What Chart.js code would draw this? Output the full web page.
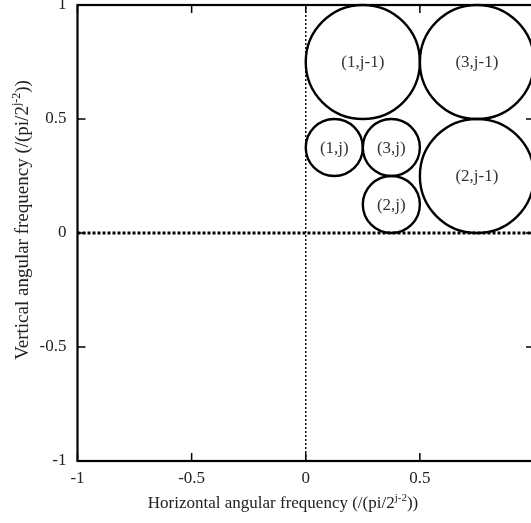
<!DOCTYPE html>
<html>
<head>
<meta charset="utf-8">
<script src="https://cdn.jsdelivr.net/npm/chart.js@4/dist/chart.umd.min.js"></script>
<style>
  html, body { margin: 0; padding: 0; background: #fff; overflow: hidden; }
  #wrap { width: 560px; height: 523px; }
</style>
</head>
<body>
<div id="wrap"><canvas id="c" width="560" height="523"></canvas></div>
<script>
// Subband layout in the normalised frequency plane: each subband is a circle
const circleLabels = ['(1,j-1)', '(3,j-1)', '(2,j-1)', '(1,j)', '(3,j)', '(2,j)'];
const circleX      = [0.25, 0.75, 0.75, 0.125, 0.375, 0.375];
const circleY      = [0.75, 0.75, 0.25, 0.375, 0.375, 0.125];
const circleR      = [0.25, 0.25, 0.25, 0.125, 0.125, 0.125];

// Axis range and tick values
const axisMin = -1;
const axisMax = 1;
const xTicks = [-1, -0.5, 0, 0.5, 1];
const yTicks = [-1, -0.5, 0, 0.5, 1];

const SERIF = '"Liberation Serif", "Times New Roman", serif';

const circleData = circleX.map((x, i) => ({ x: x, y: circleY[i], r: circleR[i], label: circleLabels[i] }));

// converts a radius in data units into pixels through the x scale
function radiusPx(ctx) {
  const s = ctx.chart.scales.x;
  const r = ctx.raw ? ctx.raw.r : 0;
  return Math.abs(s.getPixelForValue(r) - s.getPixelForValue(0));
}

// frame, inward tick marks, circle labels and axis titles
const decorations = {
  id: 'decorations',
  afterDatasetsDraw(chart) {
    const { ctx, chartArea: a, scales: { x, y } } = chart;
    ctx.save();
    ctx.strokeStyle = '#000';
    // inward ticks on all four sides
    ctx.lineWidth = 1.5;
    const tl = 8;
    ctx.beginPath();
    xTicks.forEach(v => {
      const px = x.getPixelForValue(v);
      ctx.moveTo(px, a.bottom); ctx.lineTo(px, a.bottom - tl);
      ctx.moveTo(px, a.top); ctx.lineTo(px, a.top + tl);
    });
    yTicks.forEach(v => {
      const py = y.getPixelForValue(v);
      ctx.moveTo(a.left, py); ctx.lineTo(a.left + tl, py);
      ctx.moveTo(a.right, py); ctx.lineTo(a.right - tl, py);
    });
    ctx.stroke();
    // frame
    ctx.lineWidth = 2.2;
    ctx.strokeRect(a.left, a.top, a.right - a.left, a.bottom - a.top);

    // subband labels at the circle centres
    ctx.fillStyle = '#333';
    ctx.font = '17px ' + SERIF;
    ctx.textAlign = 'center';
    ctx.textBaseline = 'middle';
    circleData.forEach(d => {
      ctx.fillText(d.label, x.getPixelForValue(d.x), y.getPixelForValue(d.y) + 1);
    });

    // axis titles with a superscript exponent
    function titleWithSup(parts, cx, cy, rot, size) {
      const base = size + 'px ' + SERIF;
      const sup = Math.round(size * 0.65) + 'px ' + SERIF;
      let total = 0;
      parts.forEach(p => { ctx.font = p.sup ? sup : base; total += ctx.measureText(p.t).width; });
      ctx.save();
      ctx.translate(cx, cy);
      ctx.rotate(rot);
      ctx.textAlign = 'left';
      ctx.textBaseline = 'alphabetic';
      ctx.fillStyle = '#222';
      let pos = -total / 2;
      parts.forEach(p => {
        ctx.font = p.sup ? sup : base;
        ctx.fillText(p.t, pos, p.sup ? -size * 0.05 : size * 0.35);
        pos += ctx.measureText(p.t).width;
      });
      ctx.restore();
    }
    titleWithSup([
      { t: 'Horizontal angular frequency (/(pi/2' }, { t: 'j-2', sup: true }, { t: '))' }
    ], 283, 502, 0, 17);
    titleWithSup([
      { t: 'Vertical angular frequency (/(pi/2' }, { t: 'j-2', sup: true }, { t: '))' }
    ], 21, 220, -Math.PI / 2, 19);
    ctx.restore();
  }
};

new Chart(document.getElementById('c'), {
  type: 'scatter',
  data: {
    datasets: [
      {
        // dotted reference line x = 0
        data: [{ x: 0, y: axisMin }, { x: 0, y: axisMax }],
        showLine: true,
        borderColor: '#000',
        borderWidth: 1.4,
        borderDash: [2, 2],
        pointRadius: 0,
        pointHoverRadius: 0
      },
      {
        // dotted reference line y = 0
        data: [{ x: axisMin, y: 0 }, { x: axisMax, y: 0 }],
        showLine: true,
        borderColor: '#000',
        borderWidth: 3,
        borderDash: [3, 2],
        pointRadius: 0,
        pointHoverRadius: 0
      },
      {
        data: circleData,
        showLine: false,
        clip: false,
        pointStyle: 'circle',
        pointRadius: radiusPx,
        pointHoverRadius: radiusPx,
        pointBorderWidth: 2.4,
        pointHoverBorderWidth: 2.4,
        pointBorderColor: '#000',
        pointBackgroundColor: 'rgba(0,0,0,0)'
      }
    ]
  },
  options: {
    responsive: false,
    animation: false,
    events: [],
    layout: { padding: { left: 0, top: 5, right: 26, bottom: 0 } },
    plugins: { legend: { display: false }, tooltip: { enabled: false } },
    scales: {
      x: {
        type: 'linear',
        min: axisMin, max: axisMax,
        afterBuildTicks: s => { s.ticks = xTicks.map(v => ({ value: v })); },
        afterFit: s => { s.height = 62; s.paddingLeft = 0; s.paddingRight = 0; },
        grid: { display: false, drawTicks: false },
        border: { display: false },
        ticks: {
          padding: 7,
          color: '#222',
          font: { family: SERIF, size: 17 },
          callback: v => String(v)
        }
      },
      y: {
        type: 'linear',
        min: axisMin, max: axisMax,
        afterBuildTicks: s => { s.ticks = yTicks.map(v => ({ value: v })); },
        afterFit: s => { s.width = 77.5; s.paddingTop = 0; s.paddingBottom = 0; },
        grid: { display: false, drawTicks: false },
        border: { display: false },
        ticks: {
          padding: 11,
          color: '#222',
          font: { family: SERIF, size: 17 },
          callback: v => String(v)
        }
      }
    }
  },
  plugins: [decorations]
});
</script>
</body>
</html>
